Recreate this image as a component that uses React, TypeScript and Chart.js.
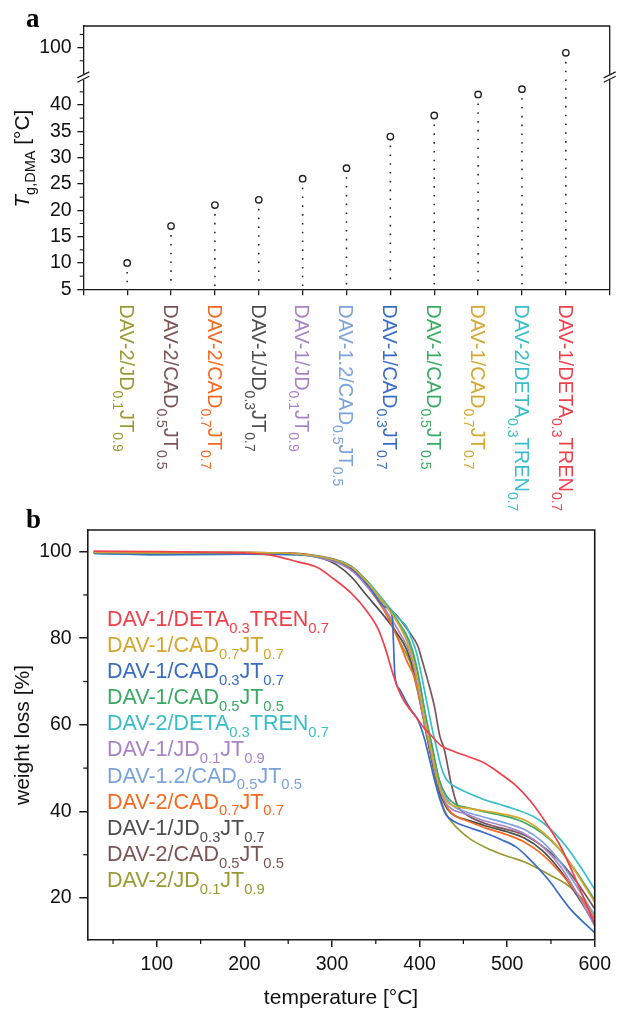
import React, { useEffect, useRef } from 'react';
import { Chart, registerables } from 'chart.js';

Chart.register(...registerables);

const FONT = "'Liberation Sans', Arial, sans-serif";
const SERIF = "'Liberation Serif', 'Times New Roman', serif";
const INK = '#1a1a1a';

// ---------------- Panel a : Tg (DMA) ----------------
const TG_SAMPLES = [
  'DAV-2/JD_{0.1}JT_{0.9}',
  'DAV-2/CAD_{0.5}JT_{0.5}',
  'DAV-2/CAD_{0.7}JT_{0.7}',
  'DAV-1/JD_{0.3}JT_{0.7}',
  'DAV-1/JD_{0.1}JT_{0.9}',
  'DAV-1.2/CAD_{0.5}JT_{0.5}',
  'DAV-1/CAD_{0.3}JT_{0.7}',
  'DAV-1/CAD_{0.5}JT_{0.5}',
  'DAV-1/CAD_{0.7}JT_{0.7}',
  'DAV-2/DETA_{0.3}TREN_{0.7}',
  'DAV-1/DETA_{0.3}TREN_{0.7}',
];
const TG_COLORS = [
  '#9a9a33', '#7c5456', '#f56a22', '#4d4d4d', '#a883c9', '#7ba3db',
  '#3a6cc6', '#3baa64', '#d5a72f', '#38bec9', '#f0414b',
];
const TG_VALUES = [10, 17, 21, 22, 26, 28, 34, 38, 42, 43, 99];
const TG_X_TICKS = [0, 1, 2, 3, 4, 5, 6, 7, 8, 9, 10, 11, 12];
const TG_Y_TICKS = [5, 10, 15, 20, 25, 30, 35, 40, 100];
const TG_Y_MINOR = [7.5, 12.5, 17.5, 22.5, 27.5, 32.5, 37.5, 42.5, 97.5, 102.5];
const TG_Y_RANGE = [5, 104.1];
const TG_BREAK = [45.3, 94.4];
const TG_Y_TITLE = ['T', 'g,DMA', ' [°C]'];

// ---------------- Panel b : TGA ----------------
const TGA_X_TICKS = [100, 200, 300, 400, 500, 600];
const TGA_X_MINOR = [50, 150, 250, 350, 450, 550];
const TGA_Y_TICKS = [20, 40, 60, 80, 100];
const TGA_Y_MINOR = [30, 50, 70, 90];
const TGA_X_RANGE = [20.6, 600];
const TGA_Y_RANGE = [10.3, 105];
const TGA_X_TITLE = 'temperature [°C]';
const TGA_Y_TITLE = 'weight loss [%]';

const TGA_LEGEND = [
  'DAV-1/DETA_{0.3}TREN_{0.7}',
  'DAV-1/CAD_{0.7}JT_{0.7}',
  'DAV-1/CAD_{0.3}JT_{0.7}',
  'DAV-1/CAD_{0.5}JT_{0.5}',
  'DAV-2/DETA_{0.3}TREN_{0.7}',
  'DAV-1/JD_{0.1}JT_{0.9}',
  'DAV-1.2/CAD_{0.5}JT_{0.5}',
  'DAV-2/CAD_{0.7}JT_{0.7}',
  'DAV-1/JD_{0.3}JT_{0.7}',
  'DAV-2/CAD_{0.5}JT_{0.5}',
  'DAV-2/JD_{0.1}JT_{0.9}',
];
const TGA_COLORS = [
  '#f0414b', '#d5a72f', '#3a6cc6', '#3baa64', '#38bec9', '#a883c9',
  '#7ba3db', '#f56a22', '#4d4d4d', '#7c5456', '#9a9a33',
];

const TGA_DAV1_DETA_TREN = [
  [28, 100.1], [100, 100], [200, 99.7], [230, 99.2], [260, 97.7], [284, 96.3], [300, 94],
  [322, 90.4], [340, 86.2], [353, 82], [361, 77.6], [368, 72.8], [375, 68.6], [382, 65.6],
  [390, 63.3], [398, 61.2], [405, 59.3], [413, 57.6], [424.5, 55.2], [440, 53.8], [455, 52.7],
  [474, 51.2], [495, 48.3], [511, 45.8], [527, 42.3], [542, 38.1], [561, 31.9], [580, 23.5],
  [600, 14],
];
const TGA_DAV1_CAD07_JT07 = [
  [28, 99.8], [100, 99.7], [200, 99.8], [260, 99.5], [290, 98.7], [310, 97.6], [325, 96],
  [342, 92.5], [360, 88], [378, 82.5], [388, 78], [395, 73], [401, 66.5], [407, 60],
  [414, 53.5], [421, 47], [430, 42.5], [440, 41.2], [452, 40.8], [475, 40.1], [500, 39.2],
  [520, 38], [540, 35.3], [560, 31.3], [580, 25.5], [600, 19],
];
const TGA_DAV1_CAD03_JT07 = [
  [28, 99.6], [100, 99.3], [200, 99.4], [260, 99.3], [290, 98.6], [310, 97.5], [325, 95.7],
  [342, 92], [360, 87.3], [369, 84.8], [370, 80], [372, 71], [377, 68.3], [383, 66],
  [390, 63.5], [398, 61.2], [406, 56.5], [412, 51.5], [417, 47.3], [424, 42.3], [430, 39.3],
  [440, 37.6], [455, 36.4], [475, 35], [493, 33.5], [510, 31.8], [523, 29.5], [546, 24.5],
  [572, 17.5], [600, 12],
];
const TGA_DAV1_CAD05_JT05 = [
  [28, 99.8], [100, 99.6], [200, 99.6], [260, 99.4], [290, 98.7], [310, 97.7], [322, 96.5],
  [341, 92.7], [360, 88.1], [375, 84], [388, 79.5], [396, 74], [402, 67.5], [408, 61],
  [415, 54.5], [422, 47.5], [431, 43.5], [441, 41.6], [452, 41], [475, 39.9], [500, 38.8],
  [520, 37.4], [540, 35], [560, 31.2], [580, 25.8], [600, 19.5],
];
const TGA_DAV2_DETA_TREN = [
  [28, 99.6], [100, 99.3], [200, 99.4], [260, 99.3], [290, 98.7], [310, 97.7], [322, 96.6],
  [341, 93], [360, 88.5], [375, 84.8], [385, 82.7], [390.5, 80], [396, 77], [401.6, 72],
  [407, 66.5], [413, 60.4], [419, 55], [424.5, 50.4], [431, 47.3], [440, 45.8], [455, 44.3],
  [474, 42.7], [490, 41.7], [512, 40.3], [530, 38.8], [542, 37.2], [555, 34.8], [569, 31.5],
  [585, 26.8], [600, 22],
];
const TGA_DAV1_JD01_JT09 = [
  [28, 99.8], [100, 99.7], [200, 99.7], [260, 99.4], [290, 98.4], [310, 97.1], [325, 95.2],
  [342, 91.5], [360, 86.8], [378, 81], [390, 76], [398, 69], [404, 62], [411, 55.5],
  [419, 48], [428, 42.5], [438, 40.4], [450, 39.6], [475, 37.8], [500, 36.4], [520, 34.8],
  [540, 32], [560, 27.5], [580, 21], [600, 13.5],
];
const TGA_DAV12_CAD05_JT05 = [
  [28, 99.7], [100, 99.5], [200, 99.6], [260, 99.4], [290, 98.6], [310, 97.5], [322, 96.3],
  [341, 92.6], [360, 88], [380, 82], [392, 76.5], [400, 70], [406, 63], [413, 56],
  [421, 48.5], [430, 43.2], [440, 41], [450, 40.1], [475, 38.6], [500, 37.2], [520, 35.8],
  [540, 33], [560, 28.5], [580, 22.5], [600, 16],
];
const TGA_DAV2_CAD07_JT07 = [
  [28, 99.9], [100, 99.8], [200, 99.8], [260, 99.5], [290, 98.6], [310, 97.3], [325, 95.3],
  [342, 91.5], [360, 86.2], [376, 79.5], [386, 74.5], [394, 71], [401, 65], [408, 58.5],
  [416, 51], [424, 45], [433, 40.5], [443, 38.7], [452, 38], [475, 36.2], [500, 34.6],
  [520, 32.9], [540, 30.1], [560, 26], [580, 21], [600, 15.2],
];
const TGA_DAV1_JD03_JT07 = [
  [28, 99.9], [100, 99.8], [200, 99.8], [260, 99.5], [290, 98.4], [305, 97], [322, 94.2],
  [340, 89.8], [360, 85], [372, 81.8], [385, 77.5], [394, 72], [401, 65], [408, 58],
  [415, 51], [423, 44.5], [432, 40.5], [442, 38.8], [452, 38.2], [475, 36.7], [500, 35.3],
  [520, 33.8], [540, 31], [560, 26.5], [580, 20.5], [600, 14],
];
const TGA_DAV2_CAD05_JT05 = [
  [28, 99.9], [100, 99.8], [200, 99.8], [260, 99.6], [290, 98.8], [310, 97.8], [322, 96.6],
  [341, 93], [360, 88], [375, 85], [388, 81.5], [398, 78.2], [402, 75.5], [409, 70.5],
  [417, 64.2], [423, 57.5], [428.4, 54.2], [436, 46.5], [443, 41.5], [451, 39.6], [475, 37.2],
  [500, 35.8], [520, 34.5], [540, 32], [560, 28.5], [580, 23.5], [600, 17.5],
];
const TGA_DAV2_JD01_JT09 = [
  [28, 99.8], [100, 99.7], [200, 99.7], [260, 99.5], [290, 98.6], [310, 97.4], [325, 95.5],
  [342, 91.8], [360, 87], [378, 79], [390, 74], [398, 67.5], [405, 60.5], [412, 53.5],
  [420, 46], [428, 40.5], [437, 37.5], [447, 35.4], [458, 33.6], [474, 31.8], [490, 30.4],
  [504, 29.4], [520, 28.3], [546, 25.6], [569, 23], [585, 20], [600, 16],
];

const TGA_SERIES = [
  TGA_DAV1_DETA_TREN, TGA_DAV1_CAD07_JT07, TGA_DAV1_CAD03_JT07, TGA_DAV1_CAD05_JT05,
  TGA_DAV2_DETA_TREN, TGA_DAV1_JD01_JT09, TGA_DAV12_CAD05_JT05, TGA_DAV2_CAD07_JT07,
  TGA_DAV1_JD03_JT07, TGA_DAV2_CAD05_JT05, TGA_DAV2_JD01_JT09,
];

// ---------------- helpers ----------------
const BREAK_GAP = TG_BREAK[1] - TG_BREAK[0];
const toAxis = (v: number) => (v >= TG_BREAK[1] ? v - BREAK_GAP : v);
const fromAxis = (v: number) => (v > TG_BREAK[0] ? v + BREAK_GAP : v);

type Part = { t: string; sub: boolean };
function parseRich(s: string): Part[] {
  const parts: Part[] = [];
  const re = /_\{([^}]*)\}/g;
  let last = 0;
  let m: RegExpExecArray | null;
  while ((m = re.exec(s))) {
    if (m.index > last) parts.push({ t: s.slice(last, m.index), sub: false });
    parts.push({ t: m[1], sub: true });
    last = re.lastIndex;
  }
  if (last < s.length) parts.push({ t: s.slice(last), sub: false });
  return parts;
}

function drawRich(
  ctx: CanvasRenderingContext2D, s: string, x: number, y: number,
  size: number, subSize: number, subDy: number, color: string,
) {
  ctx.fillStyle = color;
  ctx.textBaseline = 'alphabetic';
  ctx.textAlign = 'left';
  let cx = x;
  for (const p of parseRich(s)) {
    ctx.font = `${p.sub ? subSize : size}px ${FONT}`;
    ctx.fillText(p.t, cx, y + (p.sub ? subDy : 0));
    cx += ctx.measureText(p.t).width;
  }
  return cx - x;
}

function minorTicksY(ctx: CanvasRenderingContext2D, scale: any, vals: number[], x: number, len: number, map = (v: number) => v) {
  for (const v of vals) {
    const py = scale.getPixelForValue(map(v));
    ctx.beginPath();
    ctx.moveTo(x, py);
    ctx.lineTo(x - len, py);
    ctx.stroke();
  }
}

// ---------------- plugins ----------------
const panelAPlugin = {
  id: 'panelA',
  beforeDatasetsDraw(chart: any) {
    const { ctx, chartArea } = chart;
    const meta = chart.getDatasetMeta(0);
    ctx.save();
    ctx.strokeStyle = '#2a2a2a';
    ctx.lineWidth = 1.6;
    ctx.setLineDash([1.6, 7.2]);
    meta.data.forEach((pt: any) => {
      ctx.beginPath();
      ctx.moveTo(pt.x, pt.y + 9);
      ctx.lineTo(pt.x, chartArea.bottom - 3);
      ctx.stroke();
    });
    ctx.restore();
  },
  afterDraw(chart: any) {
    const { ctx, chartArea } = chart;
    const { left, right, top, bottom } = chartArea;
    const xs = chart.scales.x;
    const ys = chart.scales.y;
    ctx.save();
    // frame (top + right)
    ctx.strokeStyle = INK;
    ctx.lineWidth = 1.3;
    ctx.beginPath();
    ctx.moveTo(left, top);
    ctx.lineTo(right, top);
    ctx.lineTo(right, bottom);
    ctx.stroke();
    // minor ticks
    ctx.lineWidth = 1.1;
    minorTicksY(ctx, ys, TG_Y_MINOR, left, 3.5, toAxis);
    // axis breaks
    const by = ys.getPixelForValue(TG_BREAK[0]);
    for (const bx of [left, right]) {
      ctx.fillStyle = '#fff';
      ctx.fillRect(bx - 3, by - 2.5, 6, 5);
      ctx.strokeStyle = INK;
      ctx.lineWidth = 1.2;
      for (const o of [-2.2, 2.2]) {
        ctx.beginPath();
        ctx.moveTo(bx - 6, by + o + 3);
        ctx.lineTo(bx + 6, by + o - 3);
        ctx.stroke();
      }
    }
    // category labels (rotated, reading downward)
    TG_SAMPLES.forEach((lab, i) => {
      const px = xs.getPixelForValue(i + 1);
      ctx.save();
      ctx.translate(px, bottom + 15);
      ctx.rotate(Math.PI / 2);
      drawRich(ctx, lab, 0, 7.2, 20, 14, 6.5, TG_COLORS[i]);
      ctx.restore();
    });
    // y title
    ctx.save();
    ctx.translate(28.5, (top + bottom) / 2 + 1);
    ctx.rotate(-Math.PI / 2);
    ctx.fillStyle = '#111';
    ctx.textBaseline = 'alphabetic';
    ctx.textAlign = 'left';
    const fMain = `21px ${FONT}`;
    const fIt = `italic 21px ${FONT}`;
    const fSub = `14.5px ${FONT}`;
    ctx.font = fIt; const w0 = ctx.measureText(TG_Y_TITLE[0]).width;
    ctx.font = fSub; const w1 = ctx.measureText(TG_Y_TITLE[1]).width;
    ctx.font = fMain; const w2 = ctx.measureText(TG_Y_TITLE[2]).width;
    let cx = -(w0 + w1 + w2) / 2;
    ctx.font = fIt; ctx.fillText(TG_Y_TITLE[0], cx, 0); cx += w0;
    ctx.font = fSub; ctx.fillText(TG_Y_TITLE[1], cx, 6.5); cx += w1;
    ctx.font = fMain; ctx.fillText(TG_Y_TITLE[2], cx, 0);
    ctx.restore();
    // panel letter
    ctx.fillStyle = '#000';
    ctx.font = `bold 27px ${SERIF}`;
    ctx.textBaseline = 'alphabetic';
    ctx.textAlign = 'left';
    ctx.fillText('a', 26, 27);
    ctx.restore();
  },
};

const panelBPlugin = {
  id: 'panelB',
  afterDraw(chart: any) {
    const { ctx, chartArea } = chart;
    const { left, right, top, bottom } = chartArea;
    const xs = chart.scales.x;
    const ys = chart.scales.y;
    ctx.save();
    ctx.strokeStyle = INK;
    ctx.lineWidth = 1.6;
    ctx.beginPath();
    ctx.moveTo(left, top);
    ctx.lineTo(right, top);
    ctx.lineTo(right, bottom);
    ctx.stroke();
    // minor ticks
    ctx.lineWidth = 1.3;
    minorTicksY(ctx, ys, TGA_Y_MINOR, left, 4);
    for (const v of TGA_X_MINOR) {
      const px = xs.getPixelForValue(v);
      ctx.beginPath();
      ctx.moveTo(px, bottom);
      ctx.lineTo(px, bottom + 4);
      ctx.stroke();
    }
    // legend
    TGA_LEGEND.forEach((lab, i) => {
      drawRich(ctx, lab, left + 19.7, top + 88.3 + i * 26.1 + 7.6, 21.5, 14.8, 6.8, TGA_COLORS[i]);
    });
    // titles
    ctx.fillStyle = '#111';
    ctx.font = `21px ${FONT}`;
    ctx.textAlign = 'center';
    ctx.textBaseline = 'alphabetic';
    ctx.fillText(TGA_X_TITLE, (left + right) / 2, bottom + 64);
    ctx.save();
    ctx.translate(29, (top + bottom) / 2);
    ctx.rotate(-Math.PI / 2);
    ctx.fillText(TGA_Y_TITLE, 0, 0);
    ctx.restore();
    // panel letter
    ctx.fillStyle = '#000';
    ctx.font = `bold 27px ${SERIF}`;
    ctx.textAlign = 'left';
    ctx.fillText('b', 26, 28);
    ctx.restore();
  },
};

// ---------------- configs ----------------
const tickFont = { family: FONT, size: 19.5 };

function configA(): any {
  return {
    type: 'scatter',
    data: {
      datasets: [{
        data: TG_VALUES.map((v, i) => ({ x: i + 1, y: toAxis(v) })),
        pointRadius: 3.2,
        pointHoverRadius: 3.2,
        pointBorderWidth: 1.4,
        pointBorderColor: '#222',
        pointBackgroundColor: '#fff',
      }],
    },
    options: {
      responsive: false,
      animation: false,
      events: [],
      layout: { padding: { top: 26, right: 7.3, left: 0, bottom: 0 } },
      plugins: { legend: { display: false }, tooltip: { enabled: false } },
      scales: {
        x: {
          type: 'linear',
          min: TG_X_TICKS[0],
          max: TG_X_TICKS[TG_X_TICKS.length - 1],
          afterBuildTicks: (s: any) => { s.ticks = TG_X_TICKS.map((v) => ({ value: v })); },
          afterFit: (s: any) => { s.height = 540 - 289.3; },
          ticks: { display: false, autoSkip: false },
          grid: { drawOnChartArea: false, drawTicks: true, tickLength: 6, color: INK, lineWidth: 1.3 },
          border: { display: true, color: INK, width: 1.3 },
        },
        y: {
          type: 'linear',
          min: toAxis(TG_Y_RANGE[0]),
          max: toAxis(TG_Y_RANGE[1]),
          afterBuildTicks: (s: any) => { s.ticks = TG_Y_TICKS.map((v) => ({ value: toAxis(v) })); },
          afterFit: (s: any) => { s.width = 83.3; },
          ticks: {
            autoSkip: false,
            font: tickFont,
            color: '#111',
            padding: 5.6,
            callback: (v: number) => String(Math.round(fromAxis(v))),
          },
          grid: { drawOnChartArea: false, drawTicks: true, tickLength: 6, color: INK, lineWidth: 1.3 },
          border: { display: true, color: INK, width: 1.3 },
        },
      },
    },
    plugins: [panelAPlugin],
  };
}

function configB(): any {
  return {
    type: 'line',
    data: {
      datasets: TGA_SERIES.map((s, i) => ({
        label: TGA_LEGEND[i],
        data: s.map(([x, y]) => ({ x, y })),
        borderColor: TGA_COLORS[i],
        backgroundColor: TGA_COLORS[i],
        borderWidth: 1.7,
        pointRadius: 0,
        cubicInterpolationMode: 'monotone',
        fill: false,
      })),
    },
    options: {
      responsive: false,
      animation: false,
      events: [],
      layout: { padding: { top: 30, right: 19, left: 0, bottom: 0 } },
      plugins: { legend: { display: false }, tooltip: { enabled: false } },
      scales: {
        x: {
          type: 'linear',
          min: TGA_X_RANGE[0],
          max: TGA_X_RANGE[1],
          afterBuildTicks: (s: any) => { s.ticks = TGA_X_TICKS.map((v) => ({ value: v })); },
          afterFit: (s: any) => { s.height = 69; },
          ticks: { autoSkip: false, maxRotation: 0, font: tickFont, color: '#111', padding: 6 },
          grid: { drawOnChartArea: false, drawTicks: true, tickLength: 7, color: INK, lineWidth: 1.5 },
          border: { display: true, color: INK, width: 1.6 },
        },
        y: {
          type: 'linear',
          min: TGA_Y_RANGE[0],
          max: TGA_Y_RANGE[1],
          afterBuildTicks: (s: any) => { s.ticks = TGA_Y_TICKS.map((v) => ({ value: v })); },
          afterFit: (s: any) => { s.width = 87.3; },
          ticks: { autoSkip: false, font: tickFont, color: '#111', padding: 7.6 },
          grid: { drawOnChartArea: false, drawTicks: true, tickLength: 8, color: INK, lineWidth: 1.5 },
          border: { display: true, color: INK, width: 1.6 },
        },
      },
    },
    plugins: [panelBPlugin],
  };
}

export default function App() {
  const aRef = useRef<HTMLCanvasElement | null>(null);
  const bRef = useRef<HTMLCanvasElement | null>(null);
  useEffect(() => {
    const a = new Chart(aRef.current as HTMLCanvasElement, configA());
    const b = new Chart(bRef.current as HTMLCanvasElement, configB());
    return () => { a.destroy(); b.destroy(); };
  }, []);
  return (
    <div style={{ position: 'fixed', left: 0, top: 0, width: 617, height: 1009, background: '#fff', overflow: 'hidden' }}>
      <canvas ref={aRef} width={617} height={540} style={{ position: 'absolute', left: 0, top: 0, width: 617, height: 540 }} />
      <canvas ref={bRef} width={617} height={509} style={{ position: 'absolute', left: 0, top: 500, width: 617, height: 509 }} />
    </div>
  );
}
